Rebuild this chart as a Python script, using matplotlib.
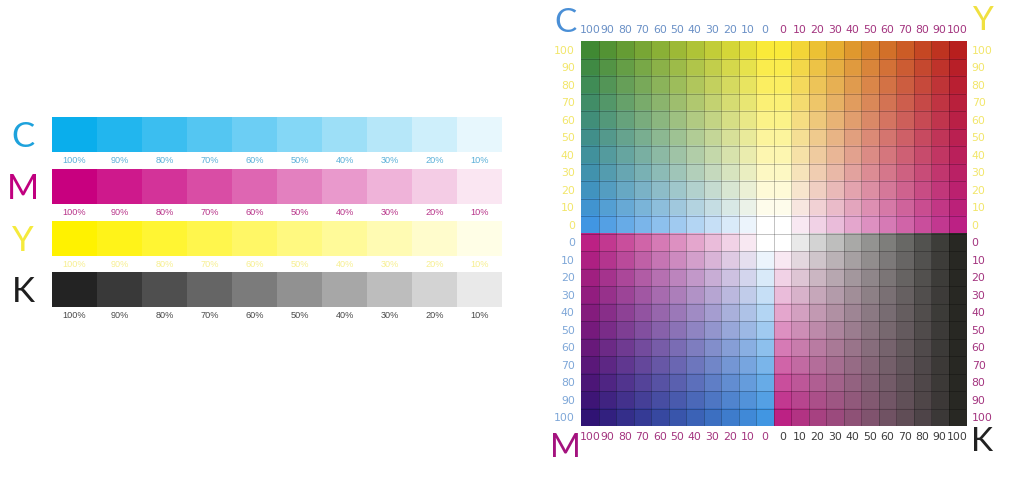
import numpy as np
import matplotlib
matplotlib.use('Agg')
import matplotlib.pyplot as plt

plt.rcParams['font.family'] = ['DejaVu Sans']

# left strips: ink tints
tints = [100, 90, 80, 70, 60, 50, 40, 30, 20, 10]
strip_names = ['C', 'M', 'Y', 'K']
strip_inks = ['#0aaeec', '#c8007f', '#fff200', '#232323']
strip_letter_colors = ['#1ea2dc', '#c0007f', '#f5ea3c', '#1e1e1e']
strip_label_colors = ['#5ab0d8', '#b8358a', '#f7ef90', '#4a4a4a']

# right grid: percentages along the axes
grid_desc = [100, 90, 80, 70, 60, 50, 40, 30, 20, 10, 0]
grid_asc = [0, 10, 20, 30, 40, 50, 60, 70, 80, 90, 100]

# ink colours used for the mixing grid (rgb 0-255)
grid_ink = {
    'C': (66, 150, 226),
    'M': (188, 34, 132),
    'Y': (250, 234, 58),
    'K': (40, 40, 36),
}

# quadrants: (column ink, column values, row ink, row values)
quadrants = {
    'top_left': ('C', grid_desc, 'Y', grid_desc),
    'top_right': ('M', grid_asc, 'Y', grid_desc),
    'bottom_left': ('M', grid_desc, 'C', grid_asc),
    'bottom_right': ('K', grid_asc, 'M', grid_asc),
}

# label colours
col_c = '#6a90c6'
col_m = '#a3347f'
col_y = '#f2e66a'
col_c_row = '#7ea7d8'
col_k = '#3c3c3c'


def tint(hex_or_rgb, pct):
    rgb = np.array(matplotlib.colors.to_rgb(hex_or_rgb))
    t = pct / 100
    return 1 - t * (1 - rgb)


def cell_rgb(amounts):
    rgb = np.ones(3)
    for ink in 'CMY':
        t = amounts.get(ink, 0) / 100
        rgb *= 1 - t * (1 - np.array(grid_ink[ink]) / 255)
    k = amounts.get('K', 0) / 100
    if k > 0:
        g = 1 - k * (1 - np.array(grid_ink['K']) / 255)
        rgb = (1 - k) * rgb * g + k * g
    return rgb


fig = plt.figure(figsize=(10.24, 4.79), dpi=100)

# ---- strips on the left
strip_bottoms = [0.6827, 0.5741, 0.4656, 0.3591]
for i in range(4):
    ax = fig.add_axes([0.0508, strip_bottoms[i], 0.4395, 0.0740])
    colors = [tint(strip_inks[i], t) for t in tints]
    ax.bar(range(len(tints)), 1, width=1.0, color=colors, linewidth=0)
    ax.set_xlim(-0.5, len(tints) - 0.5)
    ax.set_ylim(0, 1)
    ax.set_yticks([])
    ax.set_xticks(range(len(tints)), [f'{t}%' for t in tints],
                  fontfamily='Liberation Sans')
    ax.tick_params(axis='x', length=0, pad=3.2, labelsize=6.6,
                   labelcolor=strip_label_colors[i])
    for s in ax.spines.values():
        s.set_visible(False)
    ax.text(-0.064, 0.42, strip_names[i], transform=ax.transAxes,
            fontsize=25, color=strip_letter_colors[i], ha='center', va='center',
            fontfamily='Lato')

# ---- mixing grid on the right
n = len(grid_desc)
img = np.ones((2 * n, 2 * n, 3))
for name, (cink, cvals, rink, rvals) in quadrants.items():
    r0 = 0 if name.startswith('top') else n
    c0 = 0 if name.endswith('left') else n
    for ri, rv in enumerate(rvals):
        for ci, cv in enumerate(cvals):
            img[r0 + ri, c0 + ci] = cell_rgb({cink: cv, rink: rv})

ax = fig.add_axes([0.5674, 0.1106, 0.3760, 0.8038])
ax.imshow(img, interpolation='nearest', aspect='auto')
ax.set_xlim(-0.5, 2 * n - 0.5)
ax.set_ylim(2 * n - 0.5, -0.5)
for s in ax.spines.values():
    s.set_visible(False)

ax.set_xticks(np.arange(0.5, 2 * n - 1, 1), minor=True)
ax.set_yticks(np.arange(0.5, 2 * n - 1, 1), minor=True)
ax.grid(which='minor', color='#000000', alpha=0.28, linewidth=0.6)
ax.tick_params(which='minor', length=0)

ticks = np.arange(2 * n)
fs = 7.8
# bottom: M (left) and K (right)
ax.set_xticks(ticks, [str(v) for v in grid_desc + grid_asc])
for j, lbl in enumerate(ax.get_xticklabels()):
    lbl.set_color(col_m if j < n else col_k)
# left: Y (top) and C (bottom)
ax.set_yticks(ticks, [str(v) for v in grid_desc + grid_asc])
for j, lbl in enumerate(ax.get_yticklabels()):
    lbl.set_color(col_y if j < n else col_c_row)
ax.tick_params(which='major', length=0, labelsize=fs)
ax.tick_params(axis='x', pad=4.5)
ax.tick_params(axis='y', pad=4.5)

# top: C (left) and M (right)
top = ax.secondary_xaxis('top')
top.set_xticks(ticks, [str(v) for v in grid_desc + grid_asc])
for j, lbl in enumerate(top.get_xticklabels()):
    lbl.set_color(col_c if j < n else col_m)
top.tick_params(length=0, labelsize=fs, pad=4)
top.spines['top'].set_visible(False)

# right: Y (top) and M (bottom)
right = ax.secondary_yaxis('right')
right.set_yticks(ticks, [str(v) for v in grid_desc + grid_asc])
for j, lbl in enumerate(right.get_yticklabels()):
    lbl.set_color(col_y if j < n else col_m)
right.tick_params(length=0, labelsize=fs, pad=4)
right.spines['right'].set_visible(False)

# corner letters
big = dict(fontsize=24, ha='center', va='center', fontfamily='Lato')
fig.text(566 / 1024, 1 - 23 / 479, 'C', color='#4a8fd6', **big)
fig.text(982 / 1024, 1 - 21 / 479, 'Y', color='#f0e040', **big)
fig.text(565 / 1024, 1 - 448 / 479, 'M', color='#a4127e', **big)
fig.text(982 / 1024, 1 - 442 / 479, 'K', color='#222222', **big)

fig.savefig('out.png', dpi=100)
